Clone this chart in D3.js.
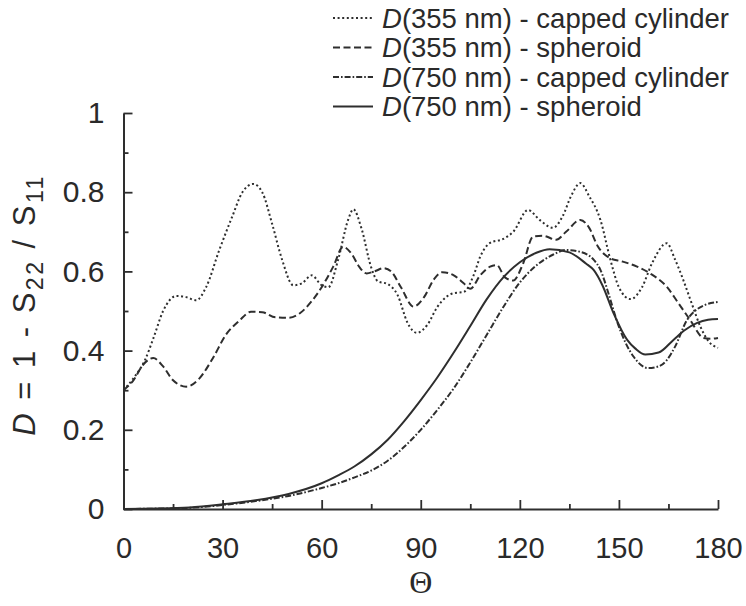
<!DOCTYPE html>
<html>
<head>
<meta charset="utf-8">
<script src="https://cdn.jsdelivr.net/npm/d3@7"></script>
<style>
  html, body { margin: 0; padding: 0; background: #fff; }
  svg { display: block; }
  text { font-family: "Liberation Sans", Arial, sans-serif; fill: #2a2a2a; }
</style>
</head>
<body>
<svg id="chart" width="746" height="606"></svg>
<script>
// Scattering angle (degrees) and depolarisation D = 1 - S22/S11 for each model
const thetaCyl355 = [0,3,6.5,9,12,16,19,22,25,29,33,36,39.3,42,45,48,51.4,54,57,60,62,65,68,69.6,72,75,77,80,83,86,88.8,92,95,97.8,100,103,106,108,111,115,118,122.5,126,130,133,135.5,138.3,141,144.4,147.4,150,153.5,157,160,164.5,167,169.5,172,174.7,177,180];
const dCyl355     = [0.30,0.33,0.376,0.43,0.50,0.538,0.535,0.527,0.56,0.654,0.74,0.80,0.821,0.80,0.72,0.63,0.565,0.57,0.59,0.565,0.56,0.63,0.73,0.757,0.71,0.61,0.575,0.568,0.54,0.47,0.445,0.465,0.51,0.536,0.545,0.548,0.59,0.637,0.672,0.682,0.70,0.755,0.73,0.71,0.74,0.79,0.823,0.79,0.73,0.63,0.56,0.53,0.56,0.62,0.671,0.63,0.578,0.52,0.46,0.425,0.407];

const thetaSph355 = [0,3,6,9,12,15,19,23,27,31,35,38.6,42,46,50,53.5,57,60,63.5,66.5,69,71.5,73.6,76,78.7,81,84,87.8,91,94,96.5,100,103,105,108,111,113,115.5,118,121,124,127,131,134,138.3,141,143.5,147.4,151,155.5,159.4,164.5,168,171.6,175.6,178,180];
const dSph355     = [0.30,0.325,0.365,0.381,0.36,0.325,0.309,0.33,0.38,0.44,0.475,0.498,0.497,0.484,0.483,0.495,0.525,0.56,0.612,0.662,0.645,0.61,0.595,0.60,0.608,0.60,0.56,0.511,0.535,0.58,0.598,0.59,0.57,0.556,0.59,0.612,0.616,0.585,0.577,0.62,0.688,0.69,0.68,0.70,0.73,0.71,0.665,0.633,0.625,0.612,0.595,0.561,0.52,0.477,0.432,0.43,0.432];

const thetaCyl750 = [0,10,20,30,40,50,60,65,70,75,80,85,90,95,100,105,110,115,120,125,130,134,138,142.4,144.4,147,149.3,152,154.4,158.8,162,164.5,167,170.6,173,176,180];
const dCyl750     = [0,0.001,0.003,0.01,0.02,0.033,0.053,0.065,0.08,0.097,0.122,0.157,0.2,0.25,0.305,0.37,0.44,0.51,0.572,0.615,0.642,0.654,0.65,0.629,0.604,0.54,0.477,0.42,0.385,0.356,0.36,0.376,0.41,0.477,0.50,0.515,0.523];

const thetaSph750 = [0,10,20,30,40,50,60,65,70,75,80,85,90,95,100,105,110,115,120,125,129,135,140,142.4,145,148.4,152.5,155,158,162,166.5,170,173.7,177,180];
const dSph750     = [0,0.001,0.004,0.012,0.022,0.038,0.065,0.085,0.108,0.138,0.175,0.222,0.275,0.332,0.395,0.462,0.53,0.585,0.623,0.647,0.656,0.648,0.62,0.603,0.565,0.494,0.427,0.405,0.39,0.395,0.427,0.452,0.47,0.478,0.48];

const seriesLabels = ["(355 nm) - capped cylinder", "(355 nm) - spheroid", "(750 nm) - capped cylinder", "(750 nm) - spheroid"];
const xTicks = [0, 30, 60, 90, 120, 150, 180];
const xMinorTicks = [15, 45, 75, 105, 135, 165];
const yTicks = [0, 0.2, 0.4, 0.6, 0.8, 1];
const yMinorTicks = [0.1, 0.3, 0.5, 0.7, 0.9];

const series = [
  { theta: thetaCyl355, d: dCyl355, dash: "2,2.6" },
  { theta: thetaSph355, d: dSph355, dash: "7,3.5" },
  { theta: thetaCyl750, d: dCyl750, dash: "6,2,1.6,2" },
  { theta: thetaSph750, d: dSph750, dash: null }
];

const svg = d3.select("#chart");
const ink = "#2e2e2e";

const x = d3.scaleLinear().domain([0, 180]).range([123.5, 718]);
const y = d3.scaleLinear().domain([0, 1]).range([509, 113]);

// Axes: ticks point into the plot area, minor ticks are shorter
function styleAxis(g) {
  g.selectAll("path.domain").attr("stroke", ink).attr("stroke-width", 2);
  g.selectAll(".tick line").attr("stroke", ink).attr("stroke-width", 1.8);
  g.selectAll(".tick text").attr("fill", ink).style("font-family", '"Liberation Sans", Arial, sans-serif');
}

const xAxis = svg.append("g").attr("transform", `translate(0,${y(0)})`)
  .call(d3.axisBottom(x).tickValues(xTicks).tickSizeInner(-9).tickSizeOuter(0).tickPadding(28).tickFormat(d3.format("d")));
xAxis.selectAll(".tick text").style("font-size", "29px");
styleAxis(xAxis);

const xMinor = svg.append("g").attr("transform", `translate(0,${y(0)})`)
  .call(d3.axisBottom(x).tickValues(xMinorTicks).tickSizeInner(-5).tickSizeOuter(0).tickFormat(""));
xMinor.select("path.domain").remove();
styleAxis(xMinor);

const yAxis = svg.append("g").attr("transform", `translate(${x(0)},0)`)
  .call(d3.axisLeft(y).tickValues(yTicks).tickSizeInner(-9).tickSizeOuter(0).tickPadding(19)
    .tickFormat(d => d === 0 || d === 1 ? d3.format("d")(d) : d3.format(".1f")(d)));
yAxis.selectAll(".tick text").style("font-size", "30px");
styleAxis(yAxis);

const yMinor = svg.append("g").attr("transform", `translate(${x(0)},0)`)
  .call(d3.axisLeft(y).tickValues(yMinorTicks).tickSizeInner(-5).tickSizeOuter(0).tickFormat(""));
yMinor.select("path.domain").remove();
styleAxis(yMinor);

// Curves
const line = d3.line().x(p => x(p[0])).y(p => y(p[1])).curve(d3.curveMonotoneX);
series.forEach(s => {
  const pts = s.theta.map((t, i) => [t, s.d[i]]);
  svg.append("path")
    .datum(pts)
    .attr("d", line)
    .attr("fill", "none")
    .attr("stroke", ink)
    .attr("stroke-width", 2)
    .attr("stroke-dasharray", s.dash);
});

// Legend
const legend = svg.append("g");
series.forEach((s, i) => {
  const ly = 18 + i * 29.5;
  legend.append("line")
    .attr("x1", 333).attr("x2", 373).attr("y1", ly).attr("y2", ly)
    .attr("stroke", ink).attr("stroke-width", 2)
    .attr("stroke-dasharray", s.dash);
  const t = legend.append("text")
    .attr("x", 382).attr("y", ly).attr("dy", "0.36em")
    .style("font-size", "27.5px");
  t.append("tspan").attr("font-style", "italic").text("D");
  t.append("tspan").text(seriesLabels[i]);
});

// Axis titles
const yTitle = svg.append("text")
  .attr("transform", "translate(35,305) rotate(-90)")
  .attr("text-anchor", "middle")
  .style("font-size", "31px")
  .style("letter-spacing", "2.5px");
yTitle.append("tspan").attr("font-style", "italic").text("D");
yTitle.append("tspan").text(" = 1 - S");
yTitle.append("tspan").attr("dy", 8).style("font-size", "23px").text("22");
yTitle.append("tspan").attr("dy", -8).text(" / S");
yTitle.append("tspan").attr("dy", 8).style("font-size", "23px").text("11");

svg.append("text")
  .attr("x", x(90)).attr("y", 593)
  .attr("text-anchor", "middle")
  .style("font-family", '"Liberation Serif", "Times New Roman", serif')
  .style("font-size", "32px")
  .text("Θ");
</script>
</body>
</html>
